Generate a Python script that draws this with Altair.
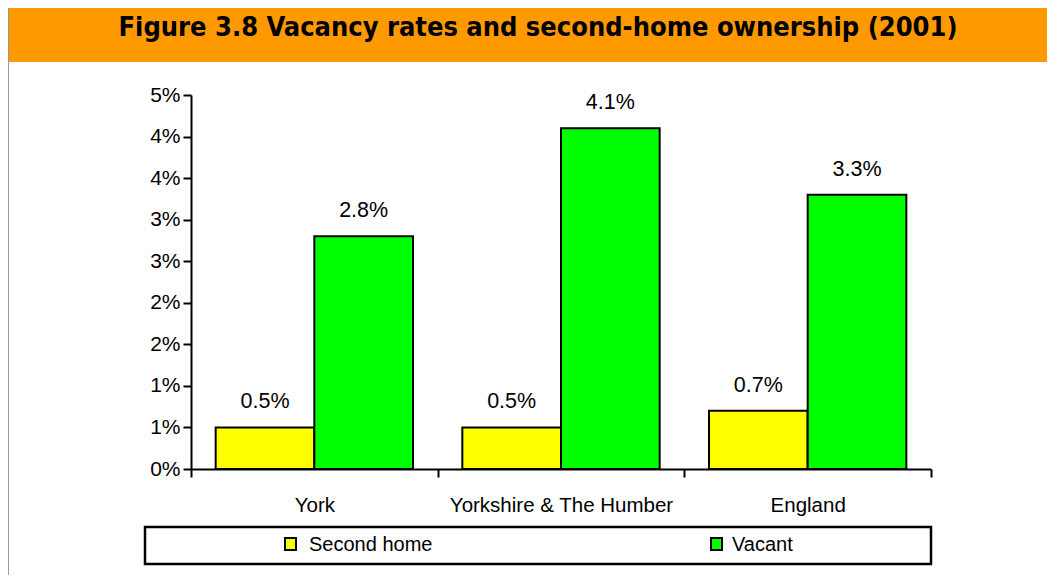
import altair as alt
import pandas as pd

title_text = "Figure 3.8 Vacancy rates and second-home ownership (2001)"
areas = ["York", "Yorkshire & The Humber", "England"]
series = ["Second home", "Vacant"]
second_home = [0.5, 0.5, 0.7]
vacant = [2.8, 4.1, 3.3]
colors = ["#FFFF00", "#00FF00"]
y_ticks = [0, 0.5, 1.0, 1.5, 2.0, 2.5, 3.0, 3.5, 4.0, 4.5]

rows = []
for a, s, v in zip(areas, second_home, vacant):
    rows.append({"area": a, "series": series[0], "value": s})
    rows.append({"area": a, "series": series[1], "value": v})
df = pd.DataFrame(rows)
legend_df = pd.DataFrame({"series": series})
title_df = pd.DataFrame({"title": [title_text]})

W, H = 740, 374
FONT = "Liberation Sans"

color = alt.Color("series:N", scale=alt.Scale(domain=series, range=colors), legend=None)

x_enc = alt.X(
    "area:N", sort=areas,
    scale=alt.Scale(paddingInner=0, paddingOuter=0),
    axis=alt.Axis(title=None, labelAngle=0, tickBand="extent", tickSize=8, labelLimit=0,
                  tickColor="black", tickWidth=2, domainColor="black", domainWidth=2,
                  labelFont=FONT, labelFontSize=20.5, labelColor="black", labelPadding=18),
)
y_enc = alt.Y(
    "value:Q",
    scale=alt.Scale(domain=[0, 4.5], nice=False, zero=True),
    axis=alt.Axis(title=None, values=y_ticks, labelExpr="round(datum.value) + '%'", grid=False,
                  tickSize=8, tickColor="black", tickWidth=2, domainColor="black", domainWidth=2,
                  labelFont=FONT, labelFontSize=21, labelColor="black", labelPadding=3),
)
xoff = alt.XOffset("series:N", sort=series, scale=alt.Scale(paddingInner=0, paddingOuter=0.25))

bars = alt.Chart(df).mark_bar(stroke="black", strokeWidth=2).encode(
    x=x_enc, y=y_enc, xOffset=xoff, color=color
)

labels = alt.Chart(df).transform_calculate(
    label="format(datum.value, '.1f') + '%'"
).mark_text(dy=-19, baseline="alphabetic", align="center", font=FONT, fontSize=21.5, color="black").encode(
    x=alt.X("area:N", sort=areas), y="value:Q", xOffset=xoff, text="label:N"
)

band = alt.Chart(title_df).mark_rect(fill="#FF9900").encode(
    x=alt.value(-182), x2=alt.value(W + 116), y=alt.value(-87), y2=alt.value(-33)
)
left_border = alt.Chart(title_df).mark_rule(color="#999999", strokeWidth=2).encode(
    x=alt.value(-183), y=alt.value(-87), y2=alt.value(H + 106)
)
title = alt.Chart(title_df).mark_text(
    font="DejaVu Sans Condensed", fontWeight="bold", fontSize=27, color="black",
    align="center", baseline="alphabetic"
).encode(x=alt.value(347), y=alt.value(-59), text="title:N")

legend_box = alt.Chart(title_df).mark_rect(fill="white", stroke="black", strokeWidth=2.5).encode(
    x=alt.value(-46), x2=alt.value(740), y=alt.value(432), y2=alt.value(469)
)

def legend_item(name, sx, tx):
    sw = alt.Chart(legend_df).transform_filter(alt.datum.series == name).mark_rect(
        stroke="black", strokeWidth=2
    ).encode(x=alt.value(sx), x2=alt.value(sx + 11), y=alt.value(443), y2=alt.value(455), color=color)
    tx_ = alt.Chart(legend_df).transform_filter(alt.datum.series == name).mark_text(
        align="left", baseline="middle", font=FONT, fontSize=20, color="black"
    ).encode(x=alt.value(tx), y=alt.value(450), text="series:N")
    return sw + tx_

leg1 = legend_item(series[0], 94, 118)
leg2 = legend_item(series[1], 520, 541)

chart = alt.layer(
    band, left_border, title, bars, labels, legend_box, leg1, leg2
).resolve_scale(color="shared").properties(
    width=W, height=H,
    autosize=alt.AutoSizeParams(type="none"),
    padding={"left": 183, "top": 87, "right": 116, "bottom": 106},
    background="white",
).configure_view(stroke=None)

chart.save("out.html", embed_options={"renderer": "svg", "actions": False})
